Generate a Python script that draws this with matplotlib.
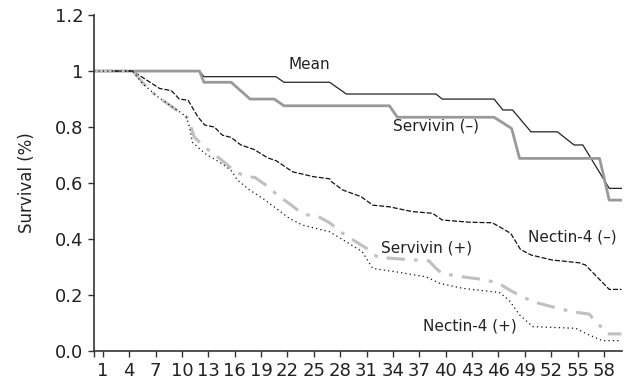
import matplotlib
matplotlib.use("Agg")
import matplotlib.pyplot as plt

# breakpoints (month, survival)
mean_x = [0, 12, 12.5, 20.7, 21.6, 26.8, 28.7, 38.9, 39.6, 45.5, 46.5, 47.6,
          49.7, 52.7, 54.6, 55.6, 58.6, 60]
mean_y = [1, 1, 0.98, 0.98, 0.96, 0.96, 0.918, 0.918, 0.9, 0.9, 0.861, 0.861,
          0.783, 0.783, 0.736, 0.736, 0.581, 0.581]

serv_neg_x = [0, 12, 12.5, 15.6, 17.75, 20.5, 21.6, 33.6, 34.5, 45.5, 47.5,
              48.4, 57.5, 58.6, 60]
serv_neg_y = [1, 1, 0.96, 0.96, 0.9, 0.9, 0.876, 0.876, 0.835, 0.835, 0.795,
              0.688, 0.688, 0.539, 0.539]

nec_neg_x = [0, 4.4, 7.45, 8.8, 9.7, 10.7, 11.8, 12.6, 13.7, 14.6, 15.6, 16.7,
             18.2, 19.75, 20.7, 22.6, 24.1, 24.9, 26.8, 27.0, 28.3, 30.4, 31.7,
             33.6, 36.2, 38.5, 39.6, 42.7, 45.3, 46.1, 47.4, 48.5, 49.7, 52.1,
             55.2, 55.9, 58.6, 60]
nec_neg_y = [1, 1, 0.938, 0.93, 0.9, 0.896, 0.837, 0.807, 0.8, 0.771, 0.763,
             0.736, 0.72, 0.69, 0.68, 0.64, 0.629, 0.623, 0.615, 0.605, 0.575,
             0.551, 0.521, 0.515, 0.498, 0.492, 0.468, 0.46, 0.458, 0.444,
             0.42, 0.363, 0.343, 0.325, 0.315, 0.307, 0.22, 0.22]

serv_pos_x = [0, 4.4, 6.3, 7.25, 9.1, 10.7, 11.4, 12.4, 14.4, 16.1, 17.3, 18.3,
              19.4, 21.1, 22.2, 23.4, 24.3, 25.4, 26.8, 28.3, 29.8, 31.3,
              32.25, 35.5, 38.1, 38.9, 39.6, 41.9, 44.6, 46.1, 47.6, 49.9,
              52.1, 54.4, 56.3, 57.1, 58.4, 60]
serv_pos_y = [1, 1, 0.932, 0.908, 0.867, 0.831, 0.765, 0.733, 0.685, 0.64,
              0.623, 0.62, 0.596, 0.551, 0.527, 0.498, 0.486, 0.482, 0.458,
              0.42, 0.39, 0.361, 0.335, 0.327, 0.322, 0.295, 0.277, 0.265,
              0.254, 0.24, 0.212, 0.176, 0.158, 0.14, 0.132, 0.105, 0.061,
              0.061]

nec_pos_x = [0, 4.4, 5.5, 7.25, 8.6, 9.7, 10.5, 10.85, 11.2, 12.6, 14.5, 15.6,
             16.3, 17.7, 19.2, 20.7, 22.2, 23.7, 25.2, 26.8, 27.1, 28.7, 30.5,
             31.7, 34.3, 37.75, 39.3, 41.9, 46.1, 47.2, 48.4, 49.9, 54.8,
             55.9, 57.8, 60]
nec_pos_y = [1, 1, 0.956, 0.908, 0.879, 0.855, 0.837, 0.801, 0.745, 0.706,
             0.67, 0.645, 0.611, 0.575, 0.545, 0.51, 0.474, 0.45, 0.438, 0.426,
             0.42, 0.39, 0.355, 0.295, 0.283, 0.265, 0.242, 0.224, 0.209,
             0.182, 0.129, 0.087, 0.081, 0.063, 0.037, 0.037]

x_ticks = list(range(1, 59, 3))
y_ticks = [0.0, 0.2, 0.4, 0.6, 0.8, 1.0, 1.2]
y_tick_labels = ["0.0", "0.2", "0.4", "0.6", "0.8", "1", "1.2"]

plt.rcParams["font.family"] = ["DejaVu Sans"]
fig = plt.figure(figsize=(6.31, 3.83), dpi=100)
ax = fig.add_axes([0.149, 0.0836, 0.836, 0.877])

ax.plot(mean_x, mean_y, color="#222222", lw=0.9)
ax.plot(serv_neg_x, serv_neg_y, color="#999999", lw=2.0)
ax.plot(nec_neg_x, nec_neg_y, color="#111111", lw=0.9, dashes=(4, 1.5))
ax.plot(serv_pos_x, serv_pos_y, color="#c0c0c0", lw=2.2,
        dashes=(6, 3, 1.2, 3))
ax.plot(nec_pos_x, nec_pos_y, color="#111111", lw=0.9, dashes=(1, 2.5))

txt = dict(fontsize=11, color="#222222", ha="center", va="center")
ax.text(24.5, 1.025, "Mean", **txt)
ax.text(38.9, 0.804, "Servivin (\u2013)", **txt)
ax.text(54.4, 0.408, "Nectin-4 (\u2013)", **txt)
ax.text(37.8, 0.367, "Servivin (+)", **txt)
ax.text(42.8, 0.089, "Nectin-4 (+)", **txt)

ax.set_xlim(0, 60)
ax.set_ylim(0, 1.2)
ax.set_xticks([0] + x_ticks)
ax.set_xticklabels([""] + [str(t) for t in x_ticks])
ax.set_yticks(y_ticks)
ax.set_yticklabels(y_tick_labels)
ax.tick_params(axis="both", labelsize=13, color="#333333", labelcolor="#222222",
               length=4, width=1.0)
ax.tick_params(axis="x", pad=4)
ax.set_ylabel("Survival (%)", fontsize=12, color="#222222", labelpad=14)

for side in ["top", "right"]:
    ax.spines[side].set_visible(False)
for side in ["left", "bottom"]:
    ax.spines[side].set_color("#333333")
    ax.spines[side].set_linewidth(1.2)

fig.savefig("out.png", dpi=100)
